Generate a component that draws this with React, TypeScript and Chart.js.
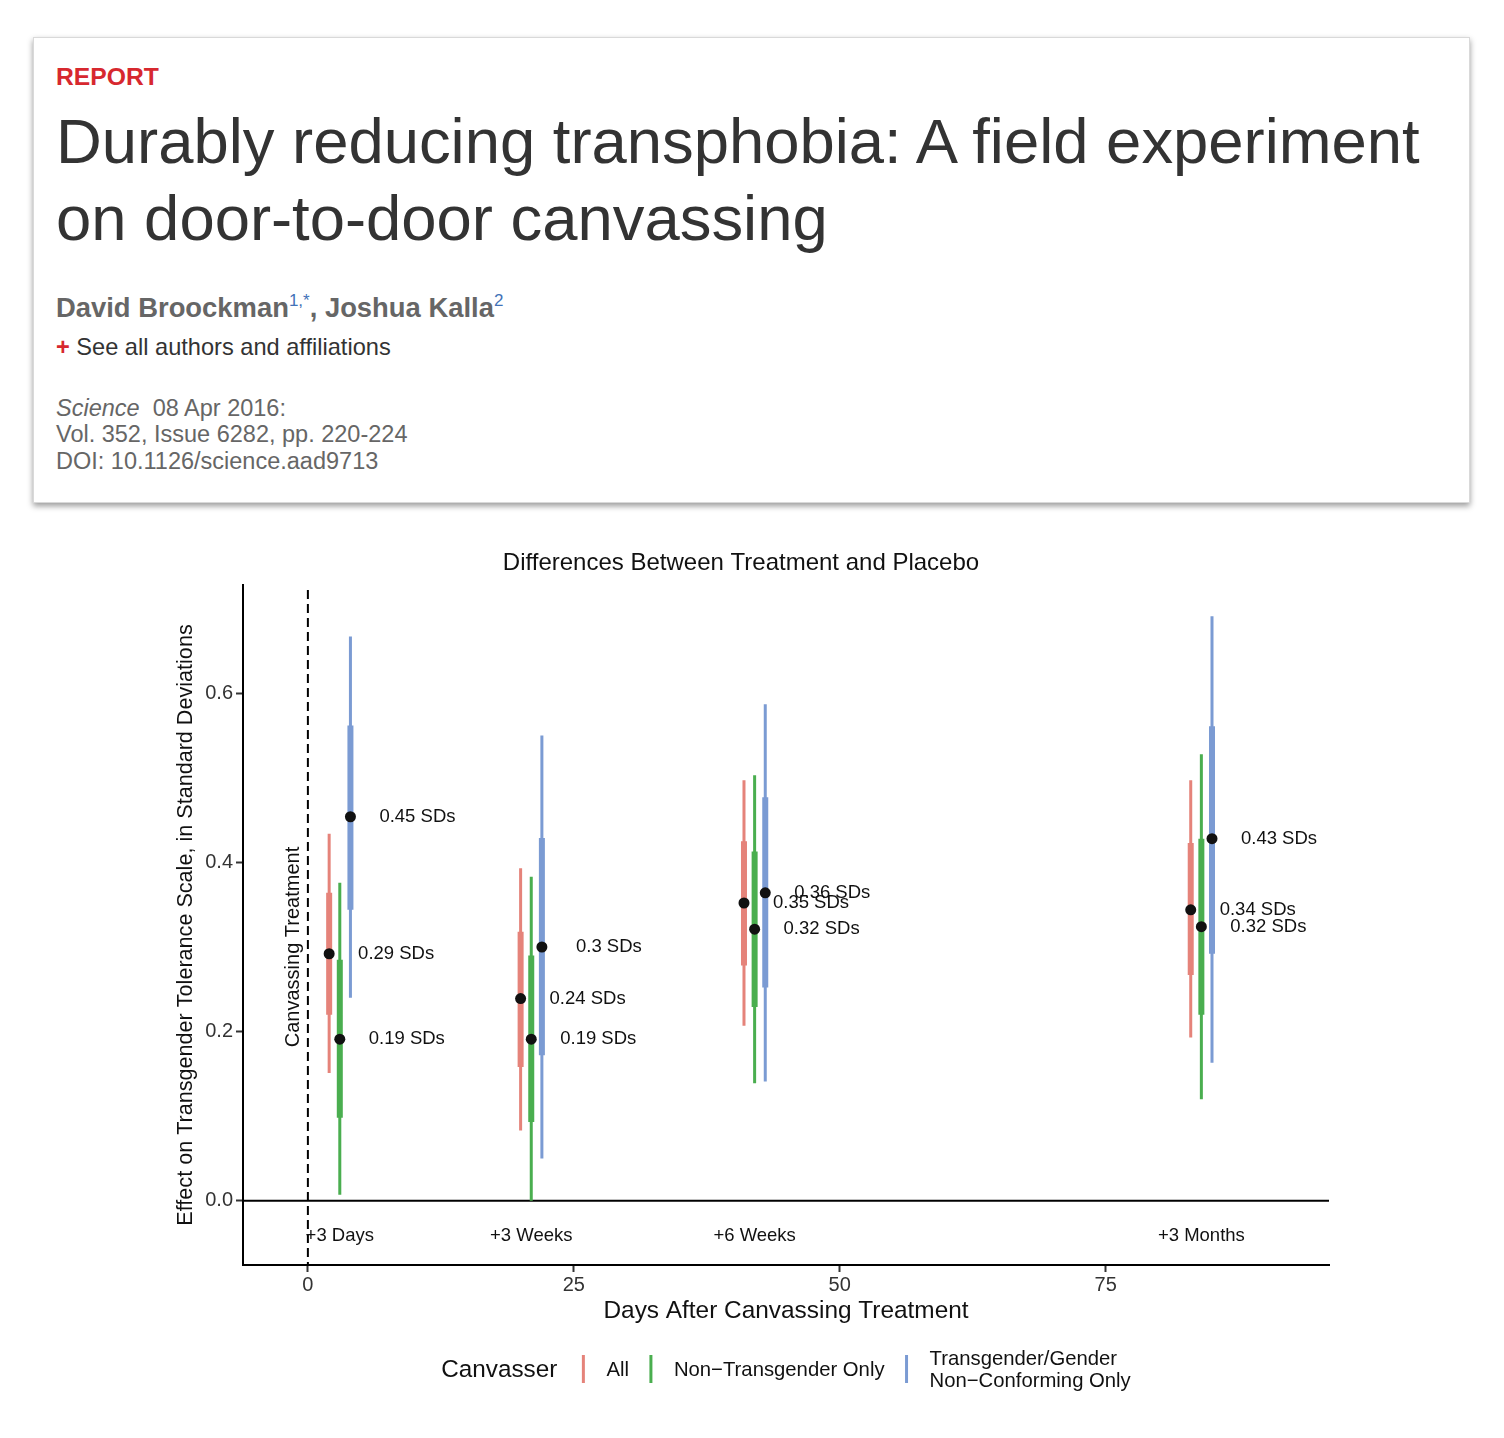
import React, { useEffect, useRef } from 'react';
import { Chart, registerables } from 'chart.js';

Chart.register(...registerables);

const FONT = "'Liberation Sans', Arial, Helvetica, sans-serif";

// ---- data ----
const chartTitle = 'Differences Between Treatment and Placebo';
const xAxisTitle = 'Days After Canvassing Treatment';
const yAxisTitle = 'Effect on Transgender Tolerance Scale, in Standard Deviations';
const treatmentLabel = 'Canvassing Treatment';
const legendTitle = 'Canvasser';

const groupLabels = ['+3 Days', '+3 Weeks', '+6 Weeks', '+3 Months'];
const groupDays = [3, 21, 42, 84];
const canvassers = ['All', 'Non\u2212Transgender Only', 'Transgender/Gender\nNon\u2212Conforming Only'];
const canvasserColors = ['#e5837a', '#4aae4f', '#7b9bd3'];
const dodgeOffsets = [-1, 0, 1];
const xTicks = [0, 25, 50, 75];
const yTicks = [0, 0.2, 0.4, 0.6];

const allEst = [0.292, 0.239, 0.352, 0.344];
const allLo95 = [0.151, 0.083, 0.207, 0.193];
const allHi95 = [0.434, 0.393, 0.497, 0.497];
const allLoSE = [0.22, 0.158, 0.278, 0.267];
const allHiSE = [0.364, 0.318, 0.425, 0.423];

const nonTransEst = [0.191, 0.191, 0.321, 0.324];
const nonTransLo95 = [0.007, 0.0, 0.139, 0.12];
const nonTransHi95 = [0.376, 0.383, 0.503, 0.528];
const nonTransLoSE = [0.098, 0.093, 0.229, 0.22];
const nonTransHiSE = [0.285, 0.29, 0.413, 0.428];

const transEst = [0.454, 0.3, 0.364, 0.428];
const transLo95 = [0.24, 0.05, 0.141, 0.163];
const transHi95 = [0.667, 0.55, 0.587, 0.691];
const transLoSE = [0.344, 0.172, 0.252, 0.292];
const transHiSE = [0.562, 0.429, 0.477, 0.561];

const labelNudge = 6.3;
const groupLabelY = -0.042;

const series = [
  { est: allEst, lo95: allLo95, hi95: allHi95, lo: allLoSE, hi: allHiSE },
  { est: nonTransEst, lo95: nonTransLo95, hi95: nonTransHi95, lo: nonTransLoSE, hi: nonTransHiSE },
  { est: transEst, lo95: transLo95, hi95: transHi95, lo: transLoSE, hi: transHiSE },
];

function rangeData(lo: number[], hi: number[], k: number) {
  const out: any[] = [];
  groupDays.forEach((d, g) => {
    const x = d + dodgeOffsets[k];
    out.push({ x, y: lo[g] }, { x, y: hi[g] }, { x, y: null });
  });
  return out;
}

function pointData(est: number[], k: number) {
  return groupDays.map((d, g) => ({ x: d + dodgeOffsets[k], y: est[g] }));
}

const fmt = (v: number) => String(Number(v.toFixed(2))) + ' SDs';

const annotate = {
  id: 'annotate',
  beforeDatasetsDraw(chart: any) {
    const { ctx, chartArea, scales } = chart;
    const x = scales.x;
    const y = scales.y;
    ctx.save();
    ctx.strokeStyle = '#000';
    ctx.lineWidth = 2;
    const y0 = y.getPixelForValue(0);
    ctx.beginPath();
    ctx.moveTo(chartArea.left, y0);
    ctx.lineTo(chartArea.right, y0);
    ctx.stroke();
    const x0 = x.getPixelForValue(0);
    ctx.setLineDash([9, 5]);
    ctx.beginPath();
    ctx.moveTo(x0, chartArea.top + 5);
    ctx.lineTo(x0, chartArea.bottom);
    ctx.stroke();
    ctx.restore();
  },
  afterDatasetsDraw(chart: any) {
    const { ctx, scales } = chart;
    const x = scales.x;
    const y = scales.y;
    ctx.save();
    ctx.fillStyle = '#111';
    ctx.textAlign = 'center';
    ctx.textBaseline = 'middle';
    ctx.font = `18.5px ${FONT}`;
    series.forEach((s, k) => {
      groupDays.forEach((d, g) => {
        const px = x.getPixelForValue(d + dodgeOffsets[k] + labelNudge);
        const py = y.getPixelForValue(s.est[g]);
        ctx.fillText(fmt(s.est[g]), px, py);
      });
    });
    groupDays.forEach((d, g) => {
      ctx.fillText(groupLabels[g], x.getPixelForValue(d), y.getPixelForValue(groupLabelY));
    });
    // rotated treatment label
    ctx.font = `20px ${FONT}`;
    ctx.translate(x.getPixelForValue(-1.4), y.getPixelForValue(0.3));
    ctx.rotate(-Math.PI / 2);
    ctx.fillText(treatmentLabel, 0, 0);
    ctx.restore();
  },
  afterDraw(chart: any) {
    const { ctx, chartArea } = chart;
    ctx.save();
    const cy = chartArea.bottom + 104;
    const cx = (chartArea.left + chartArea.right) / 2;
    ctx.textBaseline = 'middle';
    ctx.textAlign = 'left';
    ctx.font = `24.3px ${FONT}`;
    const titleW = ctx.measureText(legendTitle).width;
    ctx.font = `20.3px ${FONT}`;
    const labelWs = canvassers.map((c) =>
      Math.max(...c.split('\n').map((l) => ctx.measureText(l).width))
    );
    const total =
      titleW + 26 + labelWs.reduce((a, w) => a + 23 + w, 0) + 22 * (canvassers.length - 1);
    let cur = cx - total / 2;
    ctx.fillStyle = '#111';
    ctx.font = `24.3px ${FONT}`;
    ctx.fillText(legendTitle, cur, cy + 1);
    cur += titleW + 26;
    ctx.font = `20.3px ${FONT}`;
    canvassers.forEach((c, i) => {
      ctx.strokeStyle = canvasserColors[i];
      ctx.lineWidth = 3;
      ctx.beginPath();
      ctx.moveTo(cur, cy - 14);
      ctx.lineTo(cur, cy + 14);
      ctx.stroke();
      const lines = c.split('\n');
      ctx.fillStyle = '#111';
      lines.forEach((l, j) => {
        ctx.fillText(l, cur + 23, cy + 1 + (j - (lines.length - 1) / 2) * 22);
      });
      cur += 23 + labelWs[i] + 22;
    });
    ctx.restore();
  },
};

function ChartView() {
  const ref = useRef<HTMLCanvasElement | null>(null);
  useEffect(() => {
    if (!ref.current) return;
    const datasets: any[] = [];
    series.forEach((s, k) => {
      datasets.push({
        label: canvassers[k] + ' 95%',
        data: rangeData(s.lo95, s.hi95, k),
        borderColor: canvasserColors[k],
        borderWidth: 3,
        pointRadius: 0,
        spanGaps: false,
        order: 2,
      });
      datasets.push({
        label: canvassers[k] + ' SE',
        data: rangeData(s.lo, s.hi, k),
        borderColor: canvasserColors[k],
        borderWidth: 6,
        pointRadius: 0,
        spanGaps: false,
        order: 1,
      });
      datasets.push({
        label: canvassers[k] + ' estimate',
        data: pointData(s.est, k),
        showLine: false,
        pointRadius: 5.5,
        pointBackgroundColor: '#111',
        pointBorderColor: '#111',
        pointBorderWidth: 0,
        order: 0,
      });
    });
    const chart = new Chart(ref.current, {
      type: 'line',
      data: { datasets },
      plugins: [annotate],
      options: {
        animation: false,
        responsive: false,
        events: [],
        layout: { padding: { top: 0, left: 12, right: 12, bottom: 0 } },
        plugins: {
          legend: { display: false },
          tooltip: { enabled: false },
          title: {
            display: true,
            text: chartTitle,
            color: '#111',
            font: { size: 24, family: FONT, weight: 'normal' },
            padding: { top: 23.6, bottom: 7.6 },
          },
        },
        scales: {
          x: {
            type: 'linear',
            min: -6.1,
            max: 96,
            afterFit: (s: any) => {
              s.height = 165;
            },
            afterBuildTicks: (s: any) => {
              s.ticks = xTicks.map((v) => ({ value: v }));
            },
            border: { display: true, color: '#000', width: 2 },
            grid: {
              display: true,
              drawOnChartArea: false,
              drawTicks: true,
              tickLength: 7,
              tickWidth: 2,
              tickColor: '#333',
            },
            ticks: {
              color: '#333',
              padding: 1,
              font: { size: 20, family: FONT },
              callback: (v: any) => String(v),
            },
            title: {
              display: true,
              text: xAxisTitle,
              color: '#111',
              font: { size: 24.4, family: FONT },
              padding: { top: 0, bottom: 104.4 },
            },
          },
          y: {
            type: 'linear',
            min: -0.076,
            max: 0.728,
            afterFit: (s: any) => {
              s.width = 90;
            },
            afterBuildTicks: (s: any) => {
              s.ticks = yTicks.map((v) => ({ value: v }));
            },
            border: { display: true, color: '#000', width: 2 },
            grid: {
              display: true,
              drawOnChartArea: false,
              drawTicks: true,
              tickLength: 7,
              tickWidth: 2,
              tickColor: '#333',
            },
            ticks: {
              color: '#333',
              padding: 3,
              font: { size: 20, family: FONT },
              callback: (v: any) => Number(v).toFixed(1),
            },
            title: {
              display: true,
              text: yAxisTitle,
              color: '#111',
              font: { size: 21.6, family: FONT },
              padding: { top: 20.1, bottom: 0 },
            },
          },
        },
      } as any,
    });
    return () => chart.destroy();
  }, []);
  return (
    <canvas
      ref={ref}
      width={1200}
      height={905}
      style={{ position: 'absolute', left: 133, top: 517, width: 1200, height: 905 }}
    />
  );
}

export default function App() {
  const abs = (pageX: number, pageY: number): React.CSSProperties => ({
    position: 'absolute',
    left: pageX - 8,
    top: pageY - 8,
    whiteSpace: 'nowrap',
    fontFamily: FONT,
  });
  const sup: React.CSSProperties = {
    fontSize: 17,
    position: 'relative',
    top: -11,
    fontWeight: 400,
    color: '#4272b8',
  };
  return (
    <div style={{ position: 'relative', width: 1488, height: 1422, background: '#fff' }}>
      <div
        style={{
          position: 'absolute',
          left: 25,
          top: 29,
          width: 1437,
          height: 466,
          boxSizing: 'border-box',
          border: '1px solid #d9d9d9',
          background: '#fff',
          boxShadow: '0 3px 6px rgba(0,0,0,0.4)',
        }}
      />
      <div style={{ ...abs(56, 65), fontSize: 24.7, lineHeight: '24px', fontWeight: 700, color: '#d7282f' }}>
        REPORT
      </div>
      <div style={{ ...abs(56, 102.5), fontSize: 63.4, lineHeight: '77px', color: '#333' }}>
        Durably reducing transphobia: A field experiment
        <br />
        on door-to-door canvassing
      </div>
      <div style={{ ...abs(56, 292.5), fontSize: 27.4, lineHeight: '30px', fontWeight: 700, color: '#666' }}>
        David Broockman<span style={sup}>1,*</span>, Joshua Kalla<span style={sup}>2</span>
      </div>
      <div style={{ ...abs(56, 334), fontSize: 23.6, lineHeight: '26px', color: '#333' }}>
        <span style={{ color: '#d7282f', fontWeight: 700 }}>+</span> See all authors and affiliations
      </div>
      <div style={{ ...abs(56, 394.5), fontSize: 23.5, lineHeight: '26.5px', color: '#666' }}>
        <i>Science</i>&nbsp; 08 Apr 2016:
        <br />
        Vol. 352, Issue 6282, pp. 220-224
        <br />
        DOI: 10.1126/science.aad9713
      </div>
      <ChartView />
    </div>
  );
}
